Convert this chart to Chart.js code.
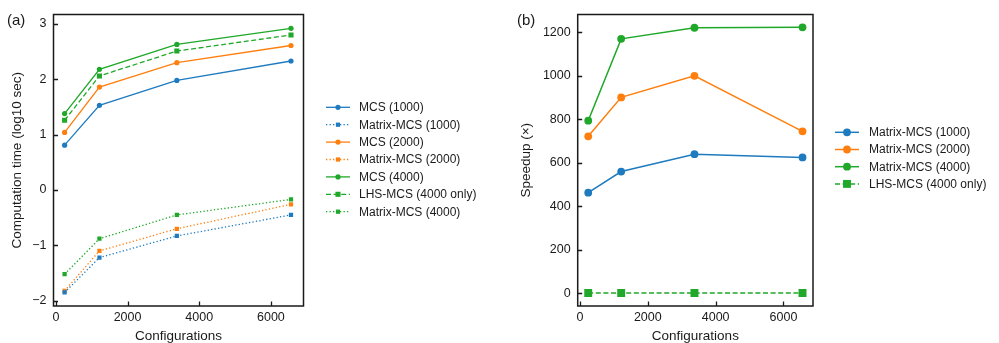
<!DOCTYPE html>
<html>
<head>
<meta charset="utf-8">
<script src="https://cdn.jsdelivr.net/npm/chart.js@4"></script>
<style>
  body { margin: 0; background: #fff; }
  #wrap { position: relative; width: 999px; height: 343px; }
  canvas { position: absolute; top: 0; }
</style>
</head>
<body>
<div id="wrap">
  <canvas id="timeChart" width="500" height="343" style="left:0"></canvas>
  <canvas id="speedChart" width="499" height="343" style="left:500px"></canvas>
</div>
<script>
// Data
const configs = [243, 1215, 3375, 6561];

// (a) computation time, log10 sec
const mcs1000 = [0.81, 1.53, 1.98, 2.33];
const matrix1000 = [-1.85, -1.22, -0.83, -0.45];
const mcs2000 = [1.04, 1.86, 2.30, 2.61];
const matrix2000 = [-1.82, -1.10, -0.70, -0.26];
const mcs4000 = [1.38, 2.18, 2.63, 2.92];
const lhs4000 = [1.26, 2.06, 2.51, 2.80];
const matrix4000 = [-1.52, -0.88, -0.45, -0.17];

// (b) speedup
const speed1000 = [463, 560, 640, 625];
const speed2000 = [722, 901, 1000, 745];
const speed4000 = [794, 1170, 1221, 1223];
const speedLhs = [2, 2, 2, 2];

const xTicksA = [0, 2000, 4000, 6000];
const yTicksA = [-2, -1, 0, 1, 2, 3];
const yTicksB = [0, 200, 400, 600, 800, 1000, 1200];

const BLUE = '#1f7bbf';
const ORANGE = '#ff7f0e';
const GREEN = '#1fa829';
const INK = '#1a1a1a';
const FONT = "'Liberation Sans', Arial, sans-serif";

const DOT = [1.3, 2.2];
const DASH = [5, 2.6];

function toPoints(ys) {
    return ys.map((y, i) => ({ x: configs[i], y: y }));
}

// plain numbers with a real minus sign, like matplotlib
function plain(v) {
    return v < 0 ? '\u2212' + Math.abs(v) : String(v);
}

function series(label, ys, color, style, marker, size, width) {
    return {
        label: label,
        data: toPoints(ys),
        borderColor: color,
        backgroundColor: color,
        borderWidth: width,
        borderDash: style,
        pointStyle: marker,
        pointRadius: size,
        pointHoverRadius: size,
        pointBorderWidth: 0,
        fill: false,
        tension: 0
    };
}

// frame, inward ticks, panel tag and a matplotlib-like legend
const framePlugin = {
    id: 'frame',
    afterDraw(chart, args, opts) {
        const ctx = chart.ctx;
        const a = chart.chartArea;
        ctx.save();
        ctx.strokeStyle = INK;
        ctx.lineWidth = 1.3;

        const xs = chart.scales.x, ys = chart.scales.y;
        ctx.beginPath();
        opts.xTicks.forEach(v => {
            const px = Math.round(xs.getPixelForValue(v)) + 0.5;
            ctx.moveTo(px, a.bottom);
            ctx.lineTo(px, a.bottom - 4.5);
        });
        opts.yTicks.forEach(v => {
            const py = Math.round(ys.getPixelForValue(v)) + 0.5;
            ctx.moveTo(a.left, py);
            ctx.lineTo(a.left + 4.5, py);
        });
        ctx.stroke();

        ctx.lineWidth = 1.5;
        ctx.strokeRect(a.left, a.top, a.right - a.left, a.bottom - a.top);

        ctx.fillStyle = INK;
        ctx.font = '15px ' + FONT;
        ctx.textBaseline = 'middle';
        ctx.textAlign = 'left';
        ctx.fillText(opts.tag, opts.tagX, 21);

        // legend
        const lg = opts.legend;
        ctx.font = '12px ' + FONT;
        chart.data.datasets.forEach((ds, i) => {
            const y = lg.y + i * lg.step;
            ctx.strokeStyle = ds.borderColor;
            ctx.lineWidth = ds.borderWidth;
            ctx.setLineDash(ds.borderDash || []);
            ctx.beginPath();
            ctx.moveTo(lg.x, y);
            ctx.lineTo(lg.x + lg.len, y);
            ctx.stroke();
            ctx.setLineDash([]);
            ctx.fillStyle = ds.borderColor;
            const cx = lg.x + lg.len / 2;
            const r = ds.pointRadius;
            if (ds.pointStyle === 'rect') {
                const s = r * Math.SQRT1_2;
                ctx.fillRect(cx - s, y - s, 2 * s, 2 * s);
            } else {
                ctx.beginPath();
                ctx.arc(cx, y, r, 0, Math.PI * 2);
                ctx.fill();
            }
            ctx.fillStyle = INK;
            ctx.fillText(ds.label, lg.textX, y + 0.5);
        });
        ctx.restore();
    }
};

function baseOptions(cfg) {
    return {
        responsive: false,
        animation: false,
        layout: { padding: { top: 14, right: cfg.padRight, left: 0, bottom: 0 } },
        plugins: {
            legend: { display: false },
            tooltip: { enabled: false },
            frame: cfg.frame
        },
        scales: {
            x: {
                type: 'linear',
                min: cfg.xMin,
                max: cfg.xMax,
                grid: { display: false, drawTicks: false },
                border: { display: false },
                afterFit: s => { s.height = 37; },
                afterBuildTicks: s => { s.ticks = xTicksA.map(v => ({ value: v })); },
                ticks: {
                    padding: 4,
                    color: INK,
                    font: { family: FONT, size: 12.5 },
                    maxRotation: 0,
                    callback: v => plain(v)
                },
                title: {
                    display: true,
                    text: 'Configurations',
                    color: INK,
                    font: { family: FONT, size: 13.5, lineHeight: 1 },
                    padding: { top: 0, bottom: 0 }
                }
            },
            y: {
                type: 'linear',
                min: cfg.yMin,
                max: cfg.yMax,
                grid: { display: false, drawTicks: false },
                border: { display: false },
                afterFit: s => { s.width = cfg.yWidth; },
                afterBuildTicks: s => { s.ticks = cfg.yTicks.map(v => ({ value: v })); },
                ticks: {
                    padding: 7,
                    color: INK,
                    font: { family: FONT, size: 12.5 },
                    callback: v => plain(v)
                },
                title: {
                    display: true,
                    text: cfg.yTitle,
                    color: INK,
                    font: { family: FONT, size: 13.5, lineHeight: 1.2 },
                    padding: { top: cfg.yTitlePad, bottom: 0 }
                }
            }
        }
    };
}

// (a) Computation time
new Chart(document.getElementById('timeChart').getContext('2d'), {
    type: 'line',
    data: {
        datasets: [
            series('MCS (1000)', mcs1000, BLUE, [], 'circle', 2.6, 1.3),
            series('Matrix-MCS (1000)', matrix1000, BLUE, DOT, 'rect', 3, 1.3),
            series('MCS (2000)', mcs2000, ORANGE, [], 'circle', 2.6, 1.3),
            series('Matrix-MCS (2000)', matrix2000, ORANGE, DOT, 'rect', 3, 1.3),
            series('MCS (4000)', mcs4000, GREEN, [], 'circle', 2.6, 1.3),
            series('LHS-MCS (4000 only)', lhs4000, GREEN, DASH, 'rect', 3.6, 1.3),
            series('Matrix-MCS (4000)', matrix4000, GREEN, DOT, 'rect', 3, 1.3)
        ]
    },
    options: baseOptions({
        padRight: 196.5,
        xMin: -67, xMax: 6910,
        yMin: -2.095, yMax: 3.17,
        yWidth: 53.5,
        yTicks: yTicksA,
        yTitle: 'Computation time (log10 sec)',
        yTitlePad: 9.5,
        frame: {
            xTicks: xTicksA, yTicks: yTicksA,
            tag: '(a)', tagX: 7,
            legend: { x: 326, y: 107.3, step: 17.4, len: 24, textX: 359 }
        }
    }),
    plugins: [framePlugin]
});

// (b) Speedup
new Chart(document.getElementById('speedChart').getContext('2d'), {
    type: 'line',
    data: {
        datasets: [
            series('Matrix-MCS (1000)', speed1000, BLUE, [], 'circle', 3.9, 1.5),
            series('Matrix-MCS (2000)', speed2000, ORANGE, [], 'circle', 3.9, 1.5),
            series('Matrix-MCS (4000)', speed4000, GREEN, [], 'circle', 3.9, 1.5),
            series('LHS-MCS (4000 only)', speedLhs, GREEN, DASH, 'rect', 5.6, 1.5)
        ]
    },
    options: baseOptions({
        padRight: 186,
        xMin: -67, xMax: 6870,
        yMin: -58, yMax: 1282,
        yWidth: 77.7,
        yTicks: yTicksB,
        yTitle: 'Speedup (×)',
        yTitlePad: 18.5,
        frame: {
            xTicks: xTicksA, yTicks: yTicksB,
            tag: '(b)', tagX: 17,
            legend: { x: 335, y: 132.3, step: 17.2, len: 24, textX: 369 }
        }
    }),
    plugins: [framePlugin]
});
</script>
</body>
</html>
